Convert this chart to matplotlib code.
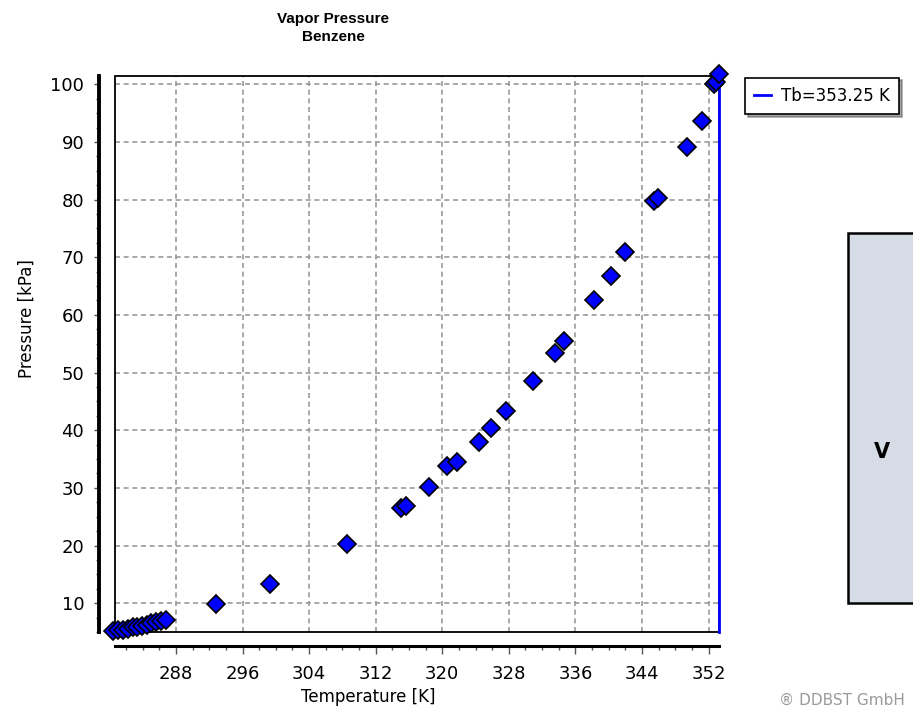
import matplotlib
matplotlib.use("Agg")
import matplotlib.pyplot as plt
from matplotlib.ticker import MultipleLocator
from matplotlib.patches import Rectangle
from matplotlib.lines import Line2D

# ===== data =====
temp_k = [280.4, 281.0, 281.6, 282.2, 282.8, 283.3, 283.9, 284.5, 285.0, 285.6, 286.2, 286.8,
          292.8, 299.3, 308.6, 315.1, 315.7, 318.4, 320.6, 321.8, 324.4, 325.8, 327.6,
          330.9, 333.6, 334.6, 338.2, 340.3, 341.9, 345.5, 345.9, 349.4, 351.2,
          352.7, 352.9, 353.2]
pressure_kpa = [5.2, 5.3, 5.4, 5.6, 5.8, 5.9, 6.1, 6.3, 6.5, 6.7, 6.9, 7.1,
                9.8, 13.4, 20.3, 26.5, 26.9, 30.1, 33.8, 34.5, 37.9, 40.3, 43.3,
                48.5, 53.4, 55.4, 62.6, 66.8, 70.9, 79.7, 80.2, 89.1, 93.7,
                100.0, 100.4, 101.7]
tb = 353.25

W, H = 913, 711
fig = plt.figure(figsize=(W / 100, H / 100), dpi=100)
L, R, T, B = 115, 719, 76.5, 632
ax = fig.add_axes([L / W, 1 - B / H, (R - L) / W, (B - T) / H])

ax.set_xlim(280.68, 353.25)
ax.set_ylim(5.0, 101.35)

ax.xaxis.set_major_locator(MultipleLocator(8))
ax.xaxis.set_minor_locator(MultipleLocator(2))
ax.yaxis.set_major_locator(MultipleLocator(10))
ax.yaxis.set_minor_locator(MultipleLocator(2.5))

ax.grid(True, which="major", color="#9a9a9a", linestyle=(0, (3, 2.2)), linewidth=1.2)
ax.set_axisbelow(True)

# offset axis lines, plus a thin frame round the plot area
for side in ["top", "right"]:
    ax.spines[side].set_visible(False)
ax.spines["left"].set_position(("outward", 11.5))
ax.spines["bottom"].set_position(("outward", 10))
ax.spines["left"].set_linewidth(2.8)
ax.spines["bottom"].set_linewidth(2.2)
ax.add_patch(Rectangle((0, 0), 1, 1, transform=ax.transAxes, fill=False,
                       edgecolor="black", linewidth=1.3, clip_on=False, zorder=1))

ax.tick_params(axis="x", which="major", length=5.5, width=1, color="#555555",
               pad=8, labelsize=13)
ax.tick_params(axis="x", which="minor", length=3, width=1, color="#555555")
ax.tick_params(axis="y", which="major", length=3.6, width=1, color="#555555",
               pad=7, labelsize=13)
ax.tick_params(axis="y", which="minor", length=2, width=1, color="#555555")

ax.plot(temp_k, pressure_kpa, linestyle="none", marker="D", markersize=9,
        markerfacecolor="#0000ff", markeredgecolor="black", markeredgewidth=1.2,
        clip_on=False, zorder=4)
ax.axvline(tb, color="#0000ff", linewidth=2, clip_on=False, zorder=3)

fig.text(368 / W, 1 - 697 / H, "Temperature [K]", ha="center", va="center", fontsize=12)
fig.text(26.7 / W, 1 - 319 / H, "Pressure [kPa]", ha="center", va="center",
         rotation=90, fontsize=12)
fig.text(333 / W, 1 - 28 / H, "Vapor Pressure\nBenzene", ha="center", va="center",
         fontsize=11, fontweight="bold", family="Liberation Sans", linespacing=1.45)

leg = ax.legend(handles=[Line2D([], [], color="#0000ff", linewidth=2)],
                labels=[f"Tb={tb} K"], loc="upper left",
                bbox_to_anchor=(745 / W, 1 - 77.5 / H), bbox_transform=fig.transFigure,
                frameon=True, fancybox=False, shadow=True, framealpha=1,
                fontsize=12, handlelength=1.0, handletextpad=0.6, borderpad=0.55,
                borderaxespad=0)
leg.get_frame().set_edgecolor("black")
leg.get_frame().set_linewidth(1.2)

# box at the right edge, cut off by the figure border
fig.patches.append(Rectangle((848 / W, 1 - 603 / H), 120 / W, 370 / H,
                             transform=fig.transFigure, facecolor="#d6dce6",
                             edgecolor="black", linewidth=1.8))
fig.text(874 / W, 1 - 452 / H, "V", ha="left", va="center",
         fontsize=15, fontweight="bold", color="black")

fig.text(779 / W, 1 - 700 / H, "\u00ae DDBST GmbH", ha="left", va="center",
         fontsize=11, color="#9a9a9a")

fig.savefig("out.png", dpi=100)
